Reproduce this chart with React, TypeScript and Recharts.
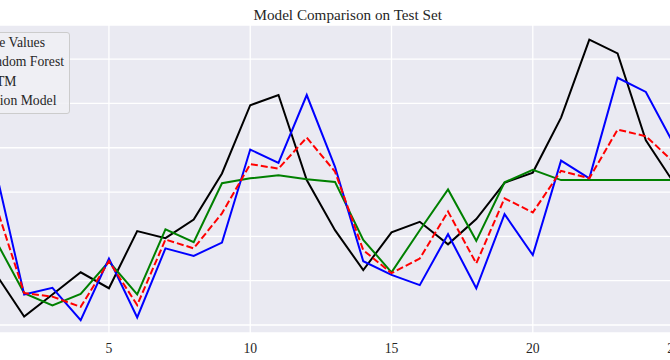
import React from "react"
import { CartesianGrid, Line, LineChart, XAxis, YAxis } from "recharts"

// x positions (time steps) of the test set
const steps = [1, 2, 3, 4, 5, 6, 7, 8, 9, 10, 11, 12, 13, 14, 15, 16, 17, 18, 19, 20, 21, 22, 23, 24, 25]

const trueValues = [11.5, 1.9, 6.9, 11.9, 8.3, 21.2, 19.6, 23.8, 34.2, 49.6, 51.9, 32.7, 21.4, 12.4, 20.9, 23.3, 18.2, 23.9, 32.1, 34.4, 46.8, 64.4, 61.3, 41.7, 32.0]
const randomForest = [19.0, 7.2, 4.4, 7.0, 14.3, 6.9, 21.6, 18.7, 32.0, 33.1, 33.8, 32.9, 32.3, 19.2, 11.9, 21.4, 30.6, 19.0, 32.2, 35.0, 32.7, 32.7, 32.7, 32.7, 32.7]
const lstm = [34.7, 6.9, 8.4, 1.1, 15.0, 1.7, 17.3, 15.6, 18.6, 39.6, 36.6, 51.9, 35.7, 14.4, 11.3, 9.0, 20.5, 8.3, 25.0, 15.8, 37.1, 33.1, 55.8, 52.6, 40.7]
const fusion = [27.0, 7.2, 6.4, 4.1, 14.4, 4.5, 19.3, 17.3, 25.2, 36.3, 35.3, 42.3, 34.6, 16.9, 11.7, 15.0, 25.6, 13.9, 28.6, 25.4, 34.8, 33.1, 44.1, 42.6, 36.7]

const xTicks = [0, 5, 10, 15, 20, 25]
const yTicks = [0, 10, 20, 30, 40, 50, 60]

const data = steps.map((x, i) => ({
  x,
  trueValues: trueValues[i],
  randomForest: randomForest[i],
  lstm: lstm[i],
  fusion: fusion[i],
}))

const serif = "'Liberation Serif', 'Times New Roman', serif"

const series = [
  { key: "trueValues", name: "True Values", color: "#000000", dash: undefined },
  { key: "randomForest", name: "Random Forest", color: "#008000", dash: undefined },
  { key: "lstm", name: "LSTM", color: "#0000ff", dash: undefined },
  { key: "fusion", name: "Fusion Model", color: "#ff0000", dash: "7 3" },
]

function LegendBox() {
  return (
    <div
      style={{
        position: "absolute",
        left: -48,
        top: 32,
        background: "rgba(240,240,245,0.85)",
        border: "1px solid #cccccc",
        borderRadius: 3,
        padding: "0.5px 5px 2.3px 6px",
        fontFamily: serif,
        fontSize: 13.7,
        color: "#262626",
      }}
    >
      {series.map((s) => (
        <div key={s.key} style={{ display: "flex", alignItems: "center", height: 19.3, whiteSpace: "nowrap" }}>
          <svg width={20} height={6} style={{ marginRight: 1 }}>
            <line x1={0} y1={3} x2={20} y2={3} stroke={s.color} strokeWidth={2} strokeDasharray={s.dash} />
          </svg>
          <span>{s.name}</span>
        </div>
      ))}
    </div>
  )
}

export default function App() {
  return (
    <div style={{ position: "absolute", left: 0, top: 0, width: 670, height: 360, overflow: "hidden", background: "#fff" }}>
      <div
        style={{
          position: "absolute",
          left: 197.7,
          top: 5.5,
          width: 300,
          textAlign: "center",
          fontFamily: serif,
          fontSize: 15.2,
          lineHeight: "18px",
          color: "#262626",
        }}
      >
        Model Comparison on Test Set
      </div>
      <div style={{ position: "absolute", left: -38, top: 0 }}>
        <LineChart width={746} height={360} data={data} margin={{ top: 25, right: 0, left: 0, bottom: 0 }}>
          <CartesianGrid fill="#EAEAF2" fillOpacity={1} stroke="#ffffff" strokeWidth={1.3} strokeDasharray="" />
          <XAxis
            dataKey="x"
            type="number"
            domain={[-0.2, 26.2]}
            ticks={xTicks}
            height={27}
            tickLine={false}
            axisLine={false}
            interval={0}
            tick={{ fill: "#262626", fontSize: 13.7, fontFamily: serif }}
            tickMargin={4}
          />
          <YAxis
            type="number"
            domain={[-1.8, 67.7]}
            ticks={yTicks}
            width={0}
            interval={0}
            tickLine={false}
            axisLine={false}
            tick={{ fill: "#262626", fontSize: 13.7, fontFamily: serif }}
            allowDataOverflow
          />
          {series.map((s) => (
            <Line
              key={s.key}
              type="linear"
              dataKey={s.key}
              name={s.name}
              stroke={s.color}
              strokeWidth={2}
              strokeDasharray={s.dash}
              dot={false}
              activeDot={false}
              isAnimationActive={false}
            />
          ))}
        </LineChart>
      </div>
      <LegendBox />
    </div>
  )
}
